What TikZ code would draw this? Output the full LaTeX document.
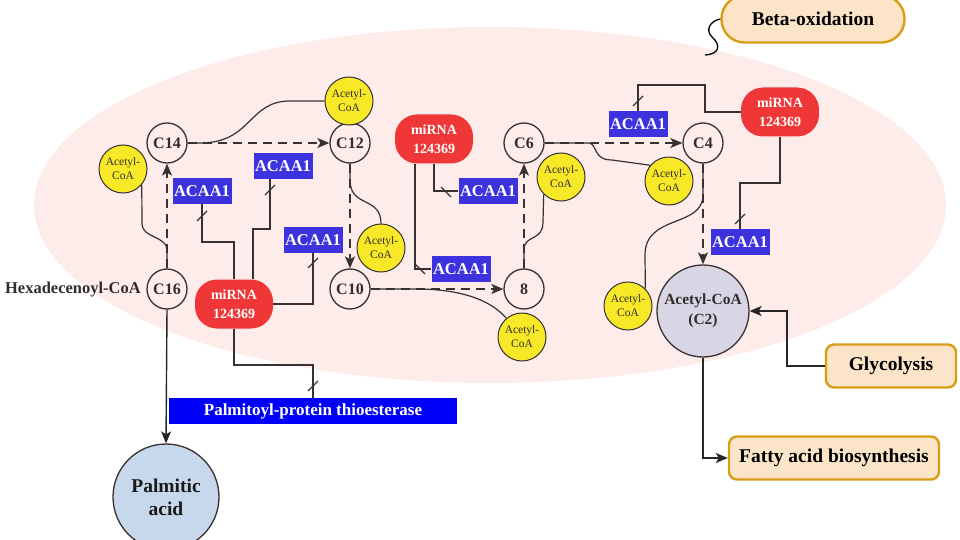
\documentclass[tikz,border=0pt]{standalone}
\usepackage{fontspec}
\setmainfont{Liberation Serif}
\usetikzlibrary{arrows.meta,calc}
\definecolor{bgpink}{RGB}{253,236,234}
\definecolor{acblue}{RGB}{60,50,222}
\definecolor{ppblue}{RGB}{0,0,250}
\definecolor{mired}{RGB}{240,55,55}
\definecolor{coayel}{RGB}{247,232,40}
\definecolor{peach}{RGB}{252,228,200}
\definecolor{gold}{RGB}{214,158,20}
\definecolor{lnk}{RGB}{55,50,50}
\definecolor{ctext}{RGB}{50,45,45}
\definecolor{ctwo}{RGB}{216,214,228}
\definecolor{palm}{RGB}{200,216,236}
\newcommand{\myfs}[1]{\fontsize{#1}{#1}\selectfont}
\begin{document}
\begin{tikzpicture}[x=1pt,y=-1pt,
 cnode/.style={circle,draw=lnk,line width=1.3pt,minimum size=40pt,inner sep=0pt,font=\myfs{16}\bfseries,text=ctext},
 coa/.style={circle,draw=lnk,line width=1pt,fill=coayel,minimum size=48pt,inner sep=0pt,align=center,font=\fontsize{11.5}{14}\selectfont,text=ctext},
 acaa/.style={fill=acblue,text=white,font=\myfs{16.5}\bfseries,minimum height=26pt,minimum width=59pt,inner sep=1pt},
 mirna/.style={fill=mired,rounded corners=22pt,minimum width=78pt,minimum height=49pt,align=center,text=white,font=\fontsize{14}{19}\selectfont\bfseries,inner sep=0pt},
 pbox/.style={draw=gold,line width=2.4pt,fill=peach,font=\myfs{19.5}\bfseries,text=black,inner sep=0pt},
 conv/.style={lnk,line width=1.3pt,dash pattern=on 9pt off 6pt,-{Stealth[length=12pt,width=10pt,inset=3pt]}},
 coajoin/.style={lnk,line width=1.2pt},
 inh/.style={lnk,line width=1.2pt},
 slashmark/.style={lnk,line width=1.2pt},
 arr/.style={black!85,line width=1.4pt,-{Stealth[length=12pt,width=10pt,inset=3pt]}}
]
\useasboundingbox (0,0) rectangle (960,540);
\fill[bgpink] (490,205) ellipse [x radius=456pt, y radius=178pt];

% carbon chain nodes
\node[cnode] (c14) at (167,143) {C14};
\node[cnode] (c12) at (350,143) {C12};
\node[cnode] (c16) at (167,289) {C16};
\node[cnode] (c10) at (350,289) {C10};
\node[cnode] (n8) at (524,289) {8};
\node[cnode] (c6) at (524,143) {C6};
\node[cnode] (c4) at (703,143) {C4};
\node[circle,draw=lnk,line width=1.3pt,fill=ctwo,minimum size=92pt,inner sep=0pt,align=center,font=\fontsize{15.5}{20}\selectfont\bfseries,text=ctext] (c2) at (703,311) {Acetyl-CoA\\(C2)};
\node[circle,draw=lnk,line width=1.3pt,fill=palm,minimum size=106pt,inner sep=0pt,align=center,font=\fontsize{19.5}{23}\selectfont\bfseries,text=black!90] (pal) at (166,497) {Palmitic\\acid};
\node[anchor=east,font=\myfs{16.5}\bfseries,text=ctext,inner sep=0pt] (hexa) at (141,290) {Hexadecenoyl-CoA};

% acetyl-CoA
\node[coa] (y1) at (123,169) {Acetyl-\\CoA};
\node[coa] (y2) at (349,101) {Acetyl-\\CoA};
\node[coa] (y3) at (381,248) {Acetyl-\\CoA};
\node[coa] (y4) at (522,337) {Acetyl-\\CoA};
\node[coa] (y5) at (561,177) {Acetyl-\\CoA};
\node[coa] (y6) at (669,181) {Acetyl-\\CoA};
\node[coa] (y7) at (628,306) {Acetyl-\\CoA};

% ACAA1
\node[acaa] (a1) at (202,191) {ACAA1};
\node[acaa] (a2) at (283,166) {ACAA1};
\node[acaa] (a3) at (313,240) {ACAA1};
\node[acaa] (a4) at (488,191) {ACAA1};
\node[acaa] (a5) at (461,269) {ACAA1};
\node[acaa] (a6) at (638,124) {ACAA1};
\node[acaa] (a7) at (740,242) {ACAA1};

% miRNA
\node[mirna] (m1) at (234,304) {miRNA\\124369};
\node[mirna] (m2) at (434,139) {miRNA\\124369};
\node[mirna] (m3) at (780,112) {miRNA\\124369};

\node[fill=ppblue,text=white,font=\myfs{17}\bfseries,minimum width=288pt,minimum height=26pt,inner sep=0pt] (ppt) at (313,411) {Palmitoyl-protein thioesterase};

% pathway boxes
\node[pbox,rounded corners=23pt,minimum width=183pt,minimum height=47pt] (beta) at (813,19) {Beta-oxidation};
\node[pbox,rounded corners=8pt,minimum width=130pt,minimum height=43pt] (gly) at (891,366) {Glycolysis};
\node[pbox,rounded corners=8pt,minimum width=210pt,minimum height=43pt] (fab) at (834,458) {Fatty acid biosynthesis};

% dashed conversions
\draw[conv] (c16) -- (c14);
\draw[conv] (c14) -- (c12);
\draw[conv] (c12) -- (c10);
\draw[conv] (c10) -- (n8);
\draw[conv] (n8) -- (c6);
\draw[conv] (c6) -- (c4);
\draw[conv] (c4) -- (c2);

% acetyl-CoA release curves
\draw[coajoin] (c16.north) -- (167,250) .. controls (167,236) and (142,238) .. (142,224) -- (y1.-40);
\draw[coajoin] (c14.east) -- (200,143) .. controls (252,143) and (248,101) .. (290,101) -- (y2.west);
\draw[coajoin] (c12.south) -- (350,180) .. controls (350,208) and (381,196) .. (y3.north);
\draw[coajoin] (c10.east) -- (420,289) .. controls (470,290) and (494,304) .. (y4.130);
\draw[coajoin] (n8.north) -- (524,250) .. controls (524,234) and (543,242) .. (543,222) -- (y5.-135);
\draw[coajoin] (c6.east) -- (588,143) .. controls (598,143) and (592,160) .. (612,160) -- (y6.140);
\draw[coajoin] (c4.south) -- (703,195) .. controls (703,228) and (645,214) .. (645,255) -- (y7.45);

% inhibition lines
\draw[inh] (m1.north) -- (234,242) -| (a1.south);
\draw[inh] ([xshift=19pt]m1.north) -- (253,229) -| ([xshift=-13pt]a2.south);
\draw[inh] (m1.east) -| (a3.south);
\draw[inh] (m1.south) -- (234,365) -| (ppt.north);
\draw[inh] (m2.south) |- (a4.west);
\draw[inh] ([xshift=-19pt]m2.south) |- (a5.west);
\draw[inh] (m3.west) -| (705,85) -| (a6.north);
\draw[inh] (m3.south) -- (780,183) -| (a7.north);

\draw[slashmark] (202,216) ++(-5,5) -- ++(10,-10);
\draw[slashmark] (270,190) ++(-5,5) -- ++(10,-10);
\draw[slashmark] (313,263) ++(-5,5) -- ++(10,-10);
\draw[slashmark] (313,386) ++(-5,5) -- ++(10,-10);
\draw[slashmark] (446,192) ++(-5,-5) -- ++(10,10);
\draw[slashmark] (420,269) ++(-5,-5) -- ++(10,10);
\draw[slashmark] (638,101) ++(-5,5) -- ++(10,-10);
\draw[slashmark] (740,219) ++(-5,5) -- ++(10,-10);

% solid arrows
\draw[arr] (c16.south) -- (pal.north);
\draw[arr] (gly.west) -- ++(-38,0) |- (c2.east);
\draw[arr] (c2.south) |- (fab.west);

% beta-oxidation brace
\coordinate (bsq) at (705,55);
\draw[black,line width=1.3pt] (beta.west) .. controls (710,21) and (705,30) .. (712,37) .. controls (721,45) and (720,54) .. (bsq);
\end{tikzpicture}
\end{document}
